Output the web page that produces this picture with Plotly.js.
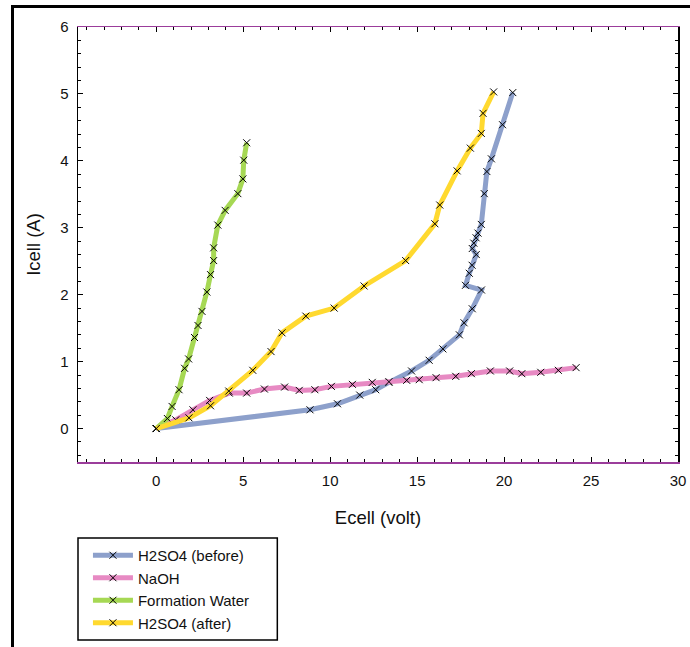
<!DOCTYPE html>
<html>
<head>
<meta charset="utf-8">
<script src="https://cdn.plot.ly/plotly-3.0.1.min.js"></script>
<style>
  html, body { margin: 0; padding: 0; background: #fff; overflow: hidden; }
  #wrap { width: 690px; height: 647px; overflow: hidden; position: relative; }
  #chart { width: 690px; height: 700px; }
  #frame { position: absolute; left: 11px; top: 5px; width: 720px; height: 700px; border: 3px solid #000; pointer-events: none; }
</style>
</head>
<body>
<div id="wrap">
<div id="chart"></div>
<div id="frame"></div>
</div>
<script>
// Data
const seriesNames = ["H2SO4 (before)", "NaOH", "Formation Water", "H2SO4 (after)"];

const before_x = [0, 8.84, 10.42, 11.7, 12.62, 13.38, 14.68, 15.69, 16.48, 17.43, 17.7, 18.17, 18.7, 17.78, 18.0, 18.16, 18.4, 18.17, 18.26, 18.39, 18.5, 18.69, 18.86, 19.01, 19.27, 19.91, 20.5];
const before_y = [0, 0.28, 0.37, 0.5, 0.58, 0.69, 0.86, 1.02, 1.19, 1.4, 1.58, 1.79, 2.07, 2.14, 2.32, 2.44, 2.6, 2.69, 2.77, 2.85, 2.92, 3.05, 3.51, 3.84, 4.03, 4.54, 5.02];

const naoh_x = [0, 1.12, 2.11, 3.07, 4.2, 5.2, 6.22, 7.38, 8.22, 9.12, 10.07, 11.28, 12.42, 13.38, 14.4, 15.12, 16.09, 17.22, 18.12, 19.21, 20.32, 21.02, 22.11, 23.12, 24.14];
const naoh_y = [0, 0.13, 0.28, 0.42, 0.53, 0.53, 0.59, 0.62, 0.57, 0.58, 0.63, 0.66, 0.69, 0.7, 0.72, 0.73, 0.76, 0.78, 0.82, 0.86, 0.86, 0.82, 0.84, 0.87, 0.91];

const water_x = [0, 0.64, 0.91, 1.31, 1.63, 1.86, 2.2, 2.4, 2.63, 2.91, 3.12, 3.3, 3.3, 3.54, 3.96, 4.69, 4.98, 5.03, 5.2];
const water_y = [0, 0.15, 0.33, 0.58, 0.9, 1.04, 1.36, 1.54, 1.75, 2.04, 2.3, 2.51, 2.7, 3.04, 3.26, 3.51, 3.73, 4.01, 4.27];

const after_x = [0, 1.88, 3.12, 4.17, 5.55, 6.6, 7.23, 8.6, 10.23, 11.95, 14.34, 16.02, 16.3, 17.3, 18.06, 18.69, 18.79, 19.4];
const after_y = [0, 0.16, 0.34, 0.56, 0.87, 1.15, 1.43, 1.68, 1.8, 2.13, 2.51, 3.06, 3.34, 3.85, 4.19, 4.41, 4.71, 5.03];

const xTicks = [0, 5, 10, 15, 20, 25, 30];
const yTicks = [0, 1, 2, 3, 4, 5, 6];

const colors = ["#8da0cb", "#e78ac3", "#a6d854", "#ffd92f"];
const xs = [before_x, naoh_x, water_x, after_x];
const ys = [before_y, naoh_y, water_y, after_y];

const traces = xs.map((x, i) => ({
  type: "scatter",
  mode: "lines+markers",
  name: seriesNames[i],
  x: x,
  y: ys[i],
  line: { color: colors[i], width: 5 },
  marker: { symbol: "x-thin", size: 7, color: "#000", line: { color: "#000", width: 1 } }
}));

const font = { family: "Liberation Sans, Arial, sans-serif", color: "#111" };

const layout = {
  width: 690,
  height: 700,
  margin: { l: 78, r: 10, t: 27, b: 238 },
  paper_bgcolor: "#fff",
  plot_bgcolor: "#fff",
  font: Object.assign({ size: 15 }, font),
  showlegend: true,
  legend: {
    x: 0.0166, y: -0.177, xanchor: "left", yanchor: "top",
    borderwidth: 0, bgcolor: "rgba(0,0,0,0)",
    font: Object.assign({ size: 15 }, font),
    tracegroupgap: 0, itemwidth: 40
  },
  shapes: [{
    type: "rect", xref: "paper", yref: "paper",
    x0: 0, x1: 0.3322, y0: -0.4092, y1: -0.1747,
    line: { color: "#000", width: 1.5 }, fillcolor: "rgba(0,0,0,0)"
  }],
  xaxis: {
    range: [-4.5, 30],
    tickvals: xTicks,
    ticktext: xTicks.map(String),
    ticks: "inside", ticklen: 5, tickcolor: "#000", tickwidth: 1,
    ticklabelstandoff: 4,
    minor: { ticks: "inside", dtick: 1, tick0: 0, ticklen: 3, tickcolor: "#000", tickwidth: 1 },
    showline: true, linecolor: "#9b3d9b", linewidth: 1.5, mirror: "ticks",
    showgrid: false, zeroline: false,
    tickfont: Object.assign({ size: 15 }, font),
    title: { text: "Ecell (volt)", font: Object.assign({ size: 18.5 }, font), standoff: 23 },
    automargin: "height"
  },
  yaxis: {
    range: [-0.5, 6],
    tickvals: yTicks,
    ticktext: yTicks.map(String),
    ticks: "inside", ticklen: 5, tickcolor: "#000", tickwidth: 1,
    ticklabelstandoff: 5,
    minor: { ticks: "inside", dtick: 0.2, tick0: 0, ticklen: 3, tickcolor: "#000", tickwidth: 1 },
    showline: true, linecolor: "#000", linewidth: 1.5, mirror: "ticks",
    showgrid: false, zeroline: false,
    tickfont: Object.assign({ size: 15 }, font),
    title: { text: "Icell (A)", font: Object.assign({ size: 18.5 }, font), standoff: 14 },
    automargin: "width"
  }
};

Plotly.newPlot("chart", traces, layout, { displayModeBar: false, staticPlot: true });
</script>
</body>
</html>
